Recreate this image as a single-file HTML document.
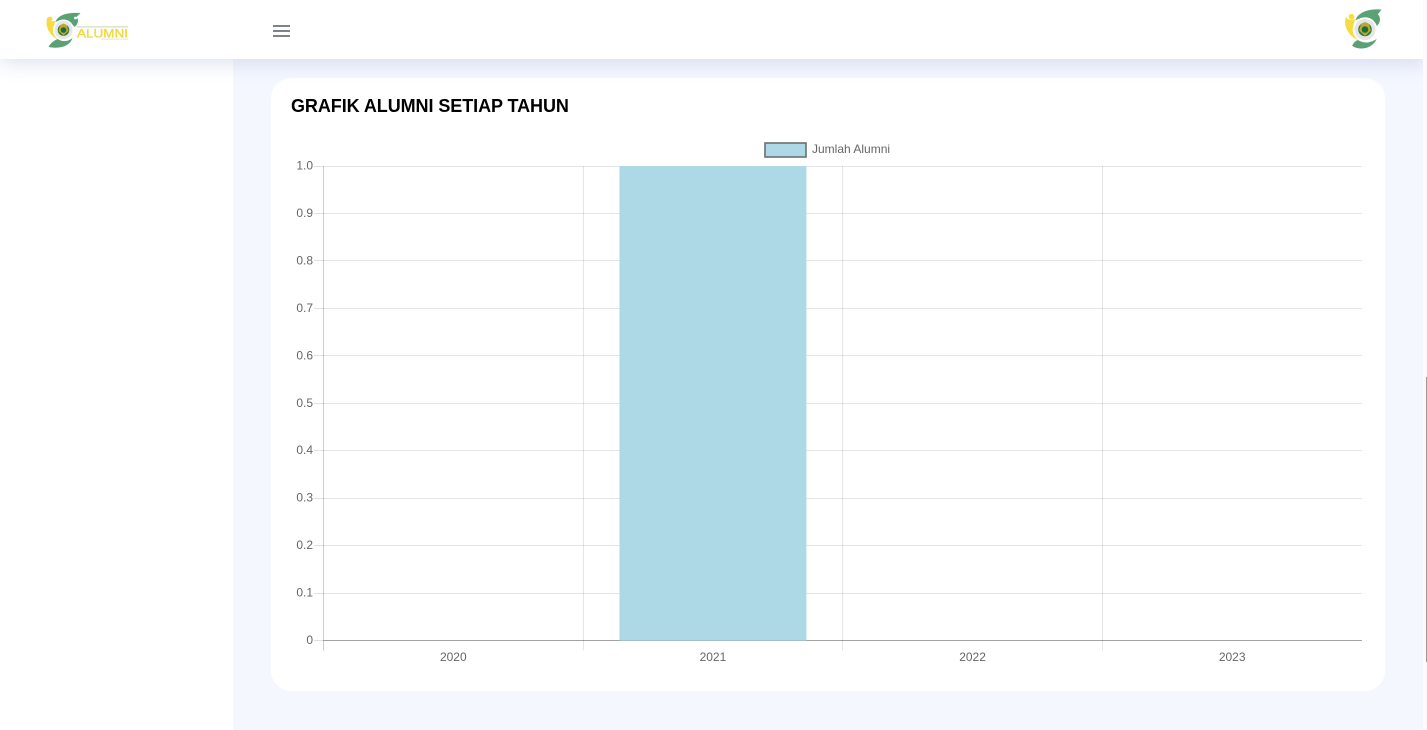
<!DOCTYPE html>
<html lang="id">
<head>
<meta charset="utf-8">
<title>Grafik Alumni</title>
<style>
  html, body { margin: 0; padding: 0; width: 1427px; height: 730px; overflow: hidden; background: #f4f7fe; font-family: "Liberation Sans", sans-serif; }
  #sidebar { position: absolute; left: 0; top: 0; width: 233px; height: 730px; background: #fff; }
  #card { position: absolute; left: 271px; top: 78px; width: 1114px; height: 613px; background: #fff; border-radius: 20px; }
  #title { position: absolute; left: 20px; top: 17px; margin: 0; font-size: 18px; line-height: 22px; font-weight: 700; color: #000; white-space: nowrap; letter-spacing: -0.07px; }
  #header { position: absolute; left: 0; top: 0; width: 1427px; height: 59px; background: #fff; box-shadow: 0 3px 20px rgba(110,120,190,.24); }
  #menu { position: absolute; left: 273px; top: 25px; width: 17px; height: 12px; cursor: pointer; }
  #menu span { display: block; height: 2px; background: #7d828d; margin-bottom: 3px; }
  #chart { position: absolute; left: 0; top: 0; }
  #scroll-track { position: absolute; left: 1423px; top: 0; width: 4px; height: 730px; background: #fafbfe; }
  #scroll-thumb { position: absolute; left: 1426px; top: 377px; width: 1px; height: 285px; background: #9a9a9a; }
  svg text { font-family: "Liberation Sans", sans-serif; }
</style>
</head>
<body>
<div id="sidebar"></div>
<div id="card">
  <h2 id="title">GRAFIK ALUMNI SETIAP TAHUN</h2>
</div>
<svg id="chart" width="1427" height="730" viewBox="0 0 1427 730"></svg>
<div id="header">
  <svg style="position:absolute;left:0;top:0" width="160" height="59">
    <g transform="translate(63.5 30)">
      <path d="M-8,-8 C-6,-15 4,-18 17,-17 L13,-13 C16,-10 14,-5 11,-3 C6,-10 -2,-11 -8,-8Z" fill="#5aa274"/>
      <circle cx="12" cy="-12" r="1.4" fill="#fff"/>
      <path d="M-15,17 C-5,19 6,17 9,8 C4,12 -1,12 -6,9 C-10,11 -13,13 -15,17Z" fill="#5aa274"/>
      <path d="M-16,-13 C-19,-5 -15,5 -6,9 C-10,3 -11,-3 -8,-9 C-12,-8 -15,-9 -16,-13Z" fill="#f5dc45"/>
      <circle cx="-13.5" cy="-11" r="2.4" fill="#f5dc45"/>
      <circle cx="0" cy="0" r="10.5" fill="#fff"/>
      <circle cx="0" cy="0" r="9" fill="#e6e6e6"/>
      <circle cx="0" cy="0" r="5.8" fill="#2f7d3c"/>
      <path d="M-3.5,-4.5 L0,-6.5 L3.5,-4.5 L5,1 L0,5.5 L-5,1Z" fill="#b9a833"/>
      <circle cx="0" cy="0" r="2.8" fill="#1f6b38"/>
    </g>
    <text x="77" y="37.5" font-size="12" textLength="51" lengthAdjust="spacingAndGlyphs" fill="#f2d83a" stroke="#f2d83a" stroke-width="0.35">ALUMNI</text>
    <rect x="77" y="26.4" width="51" height="1" fill="#c5d4b6"/>
    <rect x="101" y="38.6" width="27" height="1" fill="#dfe6cf"/>
  </svg>
  <div id="menu"><span></span><span></span><span></span></div>
  <svg style="position:absolute;left:1335px;top:0" width="60" height="59">
    <g transform="translate(30 29.5) scale(1.17)">
      <path d="M-8,-8 C-6,-15 4,-18 14,-17 L11,-13 C14,-10 13,-5 10,-3 C6,-10 -2,-11 -8,-8Z" fill="#5aa274"/>
      <path d="M-11,14 C-5,18 6,17 10,8 C4,12 -1,12 -6,9 C-9,10 -10,12 -11,14Z" fill="#5aa274"/>
      <path d="M-16,-11 C-19,-4 -15,5 -6,9 C-10,3 -11,-3 -8,-9 C-12,-8 -15,-8 -16,-11Z" fill="#f5dc45"/>
      <circle cx="-11.5" cy="-11" r="2.4" fill="#f5dc45"/>
      <circle cx="0" cy="0" r="10.5" fill="#fff"/>
      <circle cx="0" cy="0" r="9" fill="#e6e6e6"/>
      <circle cx="0" cy="0" r="5.8" fill="#2f7d3c"/>
      <path d="M-3.5,-4.5 L0,-6.5 L3.5,-4.5 L5,1 L0,5.5 L-5,1Z" fill="#b9a833"/>
      <circle cx="0" cy="0" r="2.8" fill="#1f6b38"/>
    </g>
  </svg>
</div>
<div id="scroll-track"></div>
<div id="scroll-thumb"></div>

<script>
const categories = ['2020', '2021', '2022', '2023'];
const seriesValues = [0, 1, 0, 0];
const seriesName = 'Jumlah Alumni';
const yTickValues = [0, 0.1, 0.2, 0.3, 0.4, 0.5, 0.6, 0.7, 0.8, 0.9, 1];
const yTickLabels = ['0', '0.1', '0.2', '0.3', '0.4', '0.5', '0.6', '0.7', '0.8', '0.9', '1.0'];

const svg = document.getElementById('chart');
const NS = 'http://www.w3.org/2000/svg';
const plot = { left: 323.5, right: 1362, top: 166, bottom: 640.5 };
const yMin = 0;
const yMax = 1;
const barFraction = 0.72;

function xBand() { return (plot.right - plot.left) / categories.length; }
function xEdge(i) { return plot.left + i * xBand(); }
function xCenter(i) { return xEdge(i) + xBand() / 2; }
function yScale(v) { return plot.bottom - (v - yMin) / (yMax - yMin) * (plot.bottom - plot.top); }
function crisp(p) { return Math.floor(p) + 0.5; }

function makeLine(x1, y1, x2, y2, stroke) {
  const el = document.createElementNS(NS, 'line');
  el.setAttribute('x1', x1);
  el.setAttribute('y1', y1);
  el.setAttribute('x2', x2);
  el.setAttribute('y2', y2);
  el.setAttribute('stroke', stroke);
  el.setAttribute('stroke-width', 1);
  svg.appendChild(el);
  return el;
}
function makeText(x, y, anchor, content) {
  const el = document.createElementNS(NS, 'text');
  el.setAttribute('x', x);
  el.setAttribute('y', y);
  el.setAttribute('text-anchor', anchor);
  el.setAttribute('font-size', 12);
  el.setAttribute('fill', '#666');
  el.textContent = content;
  svg.appendChild(el);
  return el;
}

yTickValues.forEach(function (v, i) {
  const y = crisp(yScale(v));
  const isZero = v === yMin;
  const grid = makeLine(plot.left, y, plot.right, y, isZero ? 'rgba(0,0,0,0.36)' : 'rgba(0,0,0,0.1)');
  
  
  const tick = makeLine(314, y, plot.left, y, 'rgba(0,0,0,0.12)');
  
  
  const label = makeText(313, yScale(v) + 3.5, 'end', yTickLabels[i]);
  
  
});

categories.forEach(function (c, i) {
  const x = crisp(xEdge(i));
  const grid = makeLine(x, plot.top, x, 650.5, i === 0 ? 'rgba(0,0,0,0.2)' : 'rgba(0,0,0,0.1)');
  
  
  const label = makeText(xCenter(i), 661, 'middle', c);
  
  
});

seriesValues.forEach(function (v, i) {
  const w = xBand() * barFraction;
  const top = yScale(v);
  const bar = document.createElementNS(NS, 'rect');
  bar.setAttribute('x', xCenter(i) - w / 2);
  bar.setAttribute('y', top);
  bar.setAttribute('width', w);
  bar.setAttribute('height', Math.max(0, yScale(yMin) - top));
  bar.setAttribute('fill', '#add8e6');
  
  
  svg.appendChild(bar);
});

const legendBox = document.createElementNS(NS, 'rect');
legendBox.setAttribute('x', 765);
legendBox.setAttribute('y', 143);
legendBox.setAttribute('width', 41);
legendBox.setAttribute('height', 14);
legendBox.setAttribute('fill', '#add8e6');
legendBox.setAttribute('stroke', '#6e6e6e');
legendBox.setAttribute('stroke-width', 1.6);


svg.appendChild(legendBox);

const legendLabel = makeText(812, 153, 'start', seriesName);


</script>
</body>
</html>
